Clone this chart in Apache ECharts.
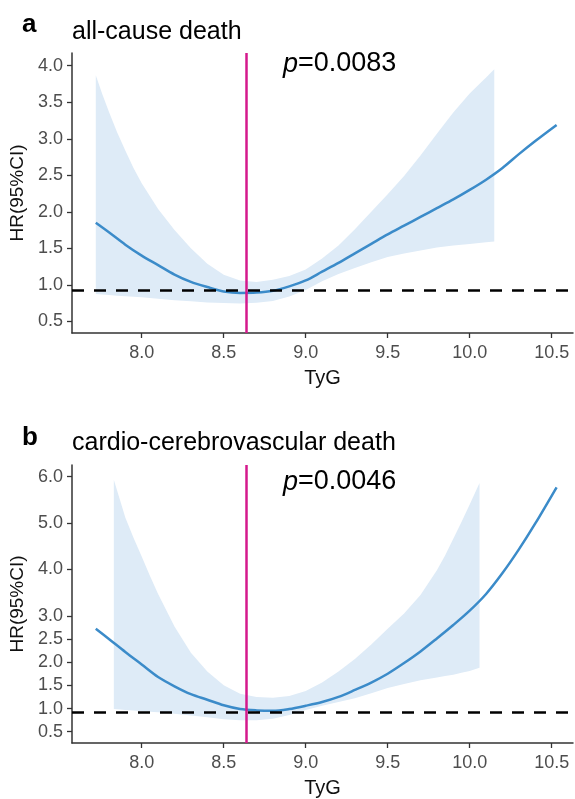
<!DOCTYPE html>
<html><head><meta charset="utf-8">
<script src="https://cdn.jsdelivr.net/npm/echarts@6/dist/echarts.min.js"></script>
<style>html,body{margin:0;padding:0;background:#fff}#c{width:575px;height:799px}</style>
</head><body><div id="c"></div>
<script>
// ---------- Panel a: all-cause death ----------
const tygA = [7.72,7.8,7.9,8.0,8.1,8.2,8.3,8.4,8.5,8.6,8.7,8.8,8.9,9.0,9.1,9.2,9.3,9.4,9.5,9.6,9.7,9.8,9.9,10.0,10.1,10.2,10.3,10.4,10.53];
const hrA  = [1.85,1.72,1.55,1.40,1.27,1.14,1.04,0.97,0.91,0.89,0.895,0.92,0.98,1.06,1.18,1.30,1.43,1.56,1.69,1.81,1.93,2.05,2.17,2.30,2.44,2.60,2.79,2.97,3.19];
const bandXA  = [7.72,7.76,7.8,7.85,7.9,7.95,8.0,8.1,8.2,8.3,8.4,8.5,8.6,8.7,8.8,8.9,9.0,9.1,9.2,9.3,9.4,9.5,9.6,9.7,9.8,9.9,10.0,10.1,10.15];
const bandHiA = [3.87,3.61,3.37,3.09,2.84,2.60,2.39,2.04,1.75,1.50,1.29,1.14,1.06,1.04,1.07,1.12,1.21,1.36,1.54,1.76,2.00,2.24,2.49,2.77,3.07,3.36,3.62,3.84,3.95];
const bandLoA = [0.875,0.868,0.86,0.852,0.845,0.838,0.83,0.81,0.79,0.775,0.76,0.75,0.745,0.755,0.78,0.84,0.93,1.05,1.15,1.23,1.31,1.38,1.43,1.47,1.51,1.54,1.56,1.585,1.595];
const refA = 0.92;
const cutA = 8.64;
const pA = "0.0083";
const titleA = "all-cause death";
const yTicksA = [0.5,1.0,1.5,2.0,2.5,3.0,3.5,4.0];

// ---------- Panel b: cardio-cerebrovascular death ----------
const tygB = [7.72,7.8,7.9,8.0,8.1,8.2,8.3,8.4,8.5,8.6,8.7,8.8,8.9,9.0,9.1,9.2,9.3,9.4,9.5,9.6,9.7,9.8,9.9,10.0,10.1,10.2,10.3,10.4,10.53];
const hrB  = [2.72,2.50,2.22,1.95,1.68,1.48,1.31,1.19,1.07,0.99,0.96,0.95,0.99,1.06,1.14,1.25,1.40,1.56,1.75,1.98,2.23,2.51,2.80,3.11,3.47,3.92,4.43,4.99,5.77];
const bandXB  = [7.83,7.87,7.9,7.95,8.0,8.05,8.1,8.2,8.3,8.4,8.5,8.6,8.7,8.8,8.9,9.0,9.1,9.2,9.3,9.4,9.5,9.6,9.7,9.8,9.85,9.9,9.95,10.0,10.06];
const bandHiB = [5.93,5.47,5.12,4.68,4.28,3.86,3.47,2.77,2.20,1.80,1.50,1.32,1.25,1.23,1.27,1.38,1.56,1.80,2.07,2.38,2.72,3.05,3.45,3.98,4.30,4.66,5.02,5.40,5.86];
const bandLoB = [0.99,0.98,0.97,0.955,0.94,0.93,0.92,0.89,0.85,0.81,0.77,0.745,0.745,0.78,0.86,0.97,1.06,1.14,1.22,1.33,1.44,1.53,1.61,1.67,1.70,1.73,1.77,1.81,1.88];
const refB = 0.93;
const cutB = 8.645;
const pB = "0.0046";
const titleB = "cardio-cerebrovascular death";
const yTicksB = [0.5,1.0,1.5,2.0,2.5,3.0,4.0,5.0,6.0];

const xTicks = [8.0,8.5,9.0,9.5,10.0,10.5];

const FONT = '"Liberation Sans", Arial, sans-serif';
const BLUE = '#3b8bc9', BAND = '#deebf7', MAG = '#d4198c', AX = '#333333', LBL = '#4d4d4d';

function pairs(xs, ys){ return xs.map((x,i)=>[x, ys[i]]); }

function bandSeries(xs, lo, hi, idx){
  const data = xs.map((x,i)=>[x, lo[i], hi[i]]);
  return {
    type:'custom', xAxisIndex:idx, yAxisIndex:idx, data, z:1, silent:true,
    encode:{x:0, y:[1,2]},
    renderItem(params, api){
      if (params.dataIndex !== 0) return;
      const pts = [];
      for (let i=0;i<data.length;i++) pts.push(api.coord([data[i][0], data[i][2]]));
      for (let i=data.length-1;i>=0;i--) pts.push(api.coord([data[i][0], data[i][1]]));
      return {type:'polygon', shape:{points:pts}, style:{fill:BAND}};
    }
  };
}
function curveSeries(xs, ys, idx, ref, cut){
  return {
    type:'line', xAxisIndex:idx, yAxisIndex:idx, data:pairs(xs,ys), showSymbol:false, smooth:0.3,
    lineStyle:{color:BLUE, width:2.5}, z:3, silent:true,
    markLine:{symbol:'none', silent:true, label:{show:false}, animation:false,
      data:[
        {yAxis:ref, lineStyle:{type:[12,10], color:'#000', width:2.5}},
        {xAxis:cut, lineStyle:{type:'solid', color:MAG, width:2.5}}
      ]}
  };
}
function xAxisDef(idx){
  return {type:'value', gridIndex:idx, min:7.575, max:10.63, splitLine:{show:false},
    axisLine:{show:true, onZero:false, lineStyle:{color:AX, width:1.5}},
    axisTick:{show:true, length:5, lineStyle:{color:AX, width:1.3}, customValues:xTicks},
    axisLabel:{customValues:xTicks, formatter:v=>v.toFixed(1), color:LBL, fontSize:18, fontFamily:FONT, margin:11},
    name:'TyG', nameLocation:'middle', nameGap:35, nameTextStyle:{color:'#111', fontSize:20, fontFamily:FONT}};
}
function yAxisDef(idx, min, max, ticks){
  return {type:'value', gridIndex:idx, min, max, splitLine:{show:false},
    axisLine:{show:true, onZero:false, lineStyle:{color:AX, width:1.5}},
    axisTick:{show:true, length:5, lineStyle:{color:AX, width:1.3}, customValues:ticks},
    axisLabel:{customValues:ticks, formatter:v=>v.toFixed(1), color:LBL, fontSize:18, fontFamily:FONT, margin:9},
    name:'HR(95%CI)', nameLocation:'middle', nameGap:38, nameTextStyle:{color:'#111', fontSize:19, fontFamily:FONT}};
}
function txt(text, x, y, font){
  return {type:'text', x, y, silent:true, style:{text, font, fill:'#000', verticalAlign:'middle', align:'left'}};
}
function pText(p, x, y){
  return {type:'text', x, y, silent:true, style:{text:'{i|p}=' + p, font:'27px ' + FONT, fill:'#000', verticalAlign:'middle', align:'left',
    rich:{i:{font:'italic 27px ' + FONT, fill:'#000'}}}};
}

const chart = echarts.init(document.getElementById('c'), null, {renderer:'canvas'});
chart.setOption({
  animation:false,
  backgroundColor:'#fff',
  grid:[
    {left:72, top:53, width:501, height:280},
    {left:72, top:465, width:501, height:279}
  ],
  xAxis:[xAxisDef(0), xAxisDef(1)],
  yAxis:[yAxisDef(0, 0.341, 4.174, yTicksA), yAxisDef(1, 0.257, 6.25, yTicksB)],
  series:[
    bandSeries(bandXA, bandLoA, bandHiA, 0),
    curveSeries(tygA, hrA, 0, refA, cutA),
    bandSeries(bandXB, bandLoB, bandHiB, 1),
    curveSeries(tygB, hrB, 1, refB, cutB)
  ],
  graphic:[
    txt('a', 22, 25, 'bold 26px ' + FONT),
    txt(titleA, 72, 32, '25px ' + FONT),
    pText(pA, 283, 64),
    txt('b', 22, 438, 'bold 26px ' + FONT),
    txt(titleB, 72, 443, '25px ' + FONT),
    pText(pB, 283, 482)
  ]
});
</script>
</body></html>
